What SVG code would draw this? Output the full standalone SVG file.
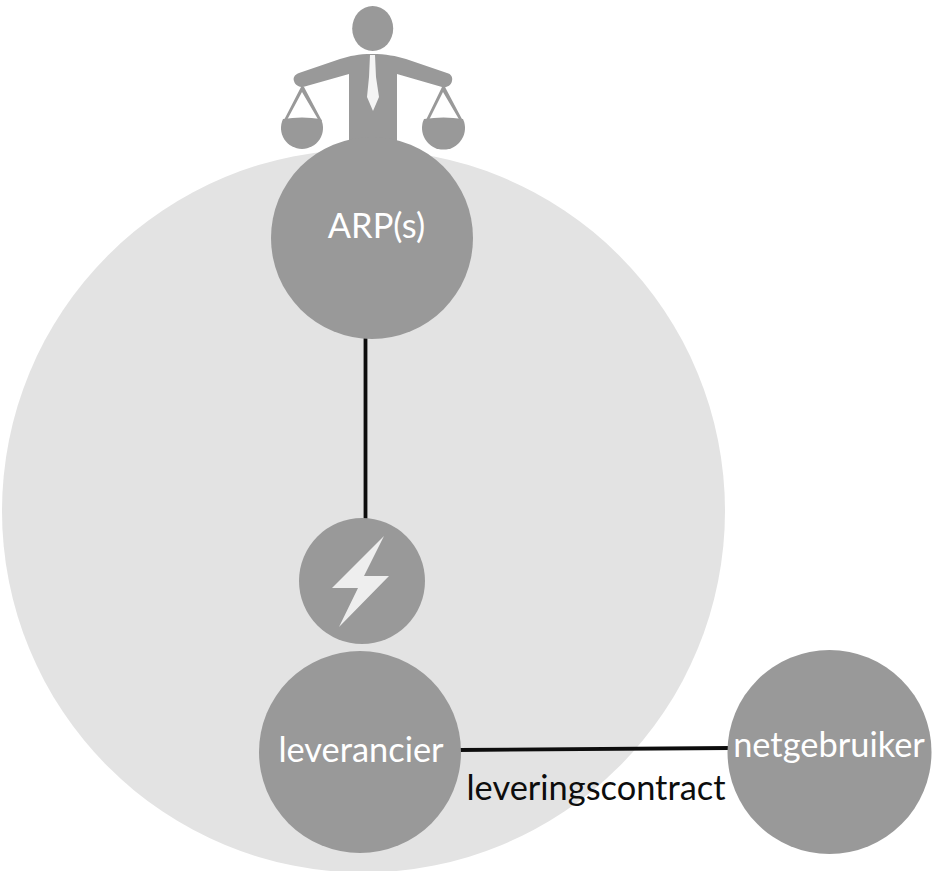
<svg xmlns="http://www.w3.org/2000/svg" width="936" height="871" viewBox="0 0 936 871">
<style>
.n{fill:#999999}
.w{font-family:"Lato","Liberation Sans",sans-serif;font-size:34.400px;fill:#ffffff;text-anchor:middle}
.l{stroke:#0d0d0d;stroke-width:3.800;fill:none}
</style>
<rect width="936" height="871" fill="#ffffff"/>
<g id="domain"><circle cx="363.500" cy="511" r="361.500" fill="#e3e3e3"/></g>
<g id="person">
<ellipse class="n" cx="372.700" cy="28.500" rx="20.500" ry="22.500"/>
<path class="n" d="M372 54C358 54 350 56 340 59L299 73C294 75 293 78 294 81C295 85 299 87 303 87L349 74V150H397V74L442 87C446 88 451 86 452 81C453 77 451 74 447 73L406 59C396 56 386 54 372 54Z"/>
<path class="n" d="M301 87L284 120H287L302 92L319 121H322L304 87Z"/>
<path class="n" d="M442 87L426 120H429L443 92L460 121H463L445 87Z"/>
<path class="n" d="M283 119Q302 116 321 119A21 21 0 1 1 283 119Z"/>
<path class="n" d="M424 119Q443.500 116 463 119A21.500 21.500 0 1 1 424 119Z"/>
<path d="M370 55H375L376 77L379 97L373 111L367 97L369 77Z" fill="#f4f4f4"/>
</g>
<g id="connectors">
<path class="l" d="M365.500 335V522"/>
<path class="l" d="M458 750L730 748"/>
</g>
<g id="arp"><circle class="n" cx="372" cy="238" r="101"/><text class="w" x="376.500" y="238">ARP(s)</text></g>
<g id="bolt"><circle class="n" cx="362" cy="581" r="63"/>
<path d="M384 536L332 588H358L339 627L389 576H364Z" fill="#eeeeee"/></g>
<g id="leverancier"><circle class="n" cx="360" cy="752" r="101"/><text class="w" x="361" y="762">leverancier</text></g>
<g id="netgebruiker"><circle class="n" cx="829.500" cy="752" r="102"/><text class="w" x="829" y="757">netgebruiker</text></g>
<text x="596" y="800" font-family="Lato,'Liberation Sans',sans-serif" font-size="34.400" fill="#0d0d0d" text-anchor="middle">leveringscontract</text>
</svg>
